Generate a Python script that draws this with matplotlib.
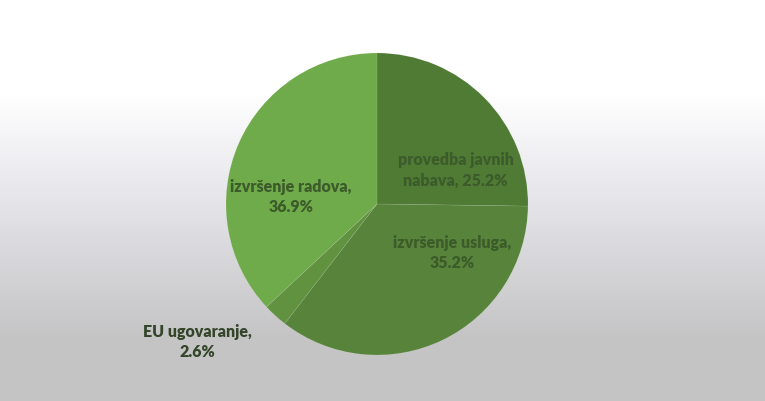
import numpy as np
import matplotlib
matplotlib.use("Agg")
import matplotlib.pyplot as plt

# podaci
kategorije = ["provedba javnih\nnabava", "izvršenje usluga,", "EU ugovaranje,", "izvršenje radova,"]
udjeli = [25.2, 35.2, 2.6, 36.9]
boje = ["#507b35", "#57843a", "#61923f", "#70ab4b"]

# pozicije natpisa (u jedinicama radijusa)
label_pos = [(0.52, 0.23), (0.50, -0.32), (-1.19, -0.91), (-0.57, 0.05)]
label_boje = ["#3c5b2a", "#3c5b2a", "#34452a", "#3c5b2a"]

W, H = 765, 402
cx, cy, R = 377, 205, 151

fig = plt.figure(figsize=(W / 100, H / 100), dpi=100)

# pozadina - gradijent od bijele prema sivoj
bg = fig.add_axes([0, 0, 1, 1], zorder=0)
rows = np.arange(H)
r = np.interp(rows, [0, 95, 200, 340, H], [255, 255, 229, 196, 196])
g = np.interp(rows, [0, 95, 200, 340, H], [255, 255, 229, 196, 196])
b = np.interp(rows, [0, 95, 200, 340, H], [255, 255, 234, 197, 197])
grad = np.stack([r, g, b], axis=1)[:, None, :] / 255.0
bg.imshow(np.repeat(grad, 2, axis=1), aspect="auto", extent=[0, 1, 0, 1])
bg.axis("off")

ax = fig.add_axes([0, 0, 1, 1], zorder=1)
ax.patch.set_alpha(0)
wedges, _ = ax.pie(udjeli, colors=boje, startangle=90, counterclock=False,
                   radius=1, wedgeprops=dict(linewidth=0.4, edgecolor=(1, 1, 1, 0.15)))
ax.set_xlim(-cx / R, (W - cx) / R)
ax.set_ylim(-(H - cy) / R, cy / R)
ax.set_aspect("auto")
ax.axis("off")

for naziv, val, (x, y), c in zip(kategorije, udjeli, label_pos, label_boje):
    if naziv.endswith("\nnabava"):
        tekst = f"{naziv}, {val}%"
    else:
        tekst = f"{naziv}\n{val}%"
    ax.text(x, y, tekst, ha="center", va="center", fontsize=11.5,
            fontfamily="Lato", fontweight="heavy", color=c, linespacing=1.3)

fig.savefig("out.png", dpi=100)
